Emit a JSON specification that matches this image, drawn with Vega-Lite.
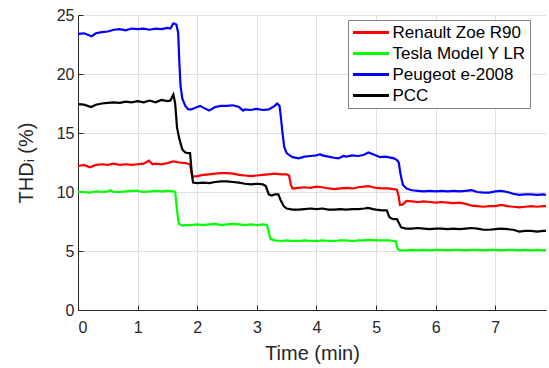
{
 "$schema": "https://vega.github.io/schema/vega-lite/v6.json",
 "width": 468,
 "height": 295,
 "autosize": "none",
 "padding": {"left": 78, "top": 15, "right": 3, "bottom": 58},
 "background": "white",
 "config": {
  "view": {"stroke": null},
  "font": "Liberation Sans",
  "axis": {
   "domainColor": "#262626", "domainWidth": 1,
   "tickColor": "#262626", "tickSize": -5, "tickWidth": 1,
   "labelColor": "#262626", "labelFont": "Liberation Sans", "labelFontSize": 16,
   "titleFont": "Liberation Sans", "titleFontSize": 20, "titleFontWeight": "normal", "titleColor": "#262626",
   "gridColor": "#dfdfdf", "gridWidth": 1
  },
  "axisX": {"labelPadding": 14, "titlePadding": 8},
  "axisY": {"labelPadding": 9, "titlePadding": 20}
 },
 "data": {"values": [
  {"s":"R","t":0,"v":12.2},{"s":"R","t":0.1,"v":12.3},{"s":"R","t":0.2,"v":12.1},{"s":"R","t":0.3,"v":12.3},{"s":"R","t":0.4,"v":12.35},{"s":"R","t":0.5,"v":12.3},{"s":"R","t":0.6,"v":12.4},{"s":"R","t":0.7,"v":12.3},{"s":"R","t":0.8,"v":12.35},{"s":"R","t":0.9,"v":12.3},{"s":"R","t":1.0,"v":12.35},{"s":"R","t":1.1,"v":12.4},{"s":"R","t":1.19,"v":12.65},{"s":"R","t":1.25,"v":12.35},{"s":"R","t":1.3,"v":12.4},{"s":"R","t":1.4,"v":12.35},{"s":"R","t":1.5,"v":12.45},{"s":"R","t":1.6,"v":12.6},{"s":"R","t":1.7,"v":12.5},{"s":"R","t":1.8,"v":12.45},{"s":"R","t":1.85,"v":12.4},{"s":"R","t":1.88,"v":12.3},{"s":"R","t":1.91,"v":11.5},{"s":"R","t":1.93,"v":11.3},{"s":"R","t":2.0,"v":11.35},{"s":"R","t":2.1,"v":11.45},{"s":"R","t":2.2,"v":11.5},{"s":"R","t":2.3,"v":11.55},{"s":"R","t":2.4,"v":11.6},{"s":"R","t":2.5,"v":11.6},{"s":"R","t":2.6,"v":11.55},{"s":"R","t":2.7,"v":11.45},{"s":"R","t":2.8,"v":11.4},{"s":"R","t":2.9,"v":11.35},{"s":"R","t":3.0,"v":11.4},{"s":"R","t":3.1,"v":11.45},{"s":"R","t":3.2,"v":11.5},{"s":"R","t":3.3,"v":11.55},{"s":"R","t":3.4,"v":11.5},{"s":"R","t":3.5,"v":11.5},{"s":"R","t":3.54,"v":11.4},{"s":"R","t":3.57,"v":10.6},{"s":"R","t":3.6,"v":10.3},{"s":"R","t":3.7,"v":10.35},{"s":"R","t":3.8,"v":10.4},{"s":"R","t":3.9,"v":10.35},{"s":"R","t":4.0,"v":10.45},{"s":"R","t":4.1,"v":10.4},{"s":"R","t":4.2,"v":10.3},{"s":"R","t":4.3,"v":10.25},{"s":"R","t":4.4,"v":10.3},{"s":"R","t":4.5,"v":10.35},{"s":"R","t":4.6,"v":10.3},{"s":"R","t":4.7,"v":10.4},{"s":"R","t":4.8,"v":10.45},{"s":"R","t":4.87,"v":10.5},{"s":"R","t":4.95,"v":10.4},{"s":"R","t":5.0,"v":10.35},{"s":"R","t":5.1,"v":10.3},{"s":"R","t":5.2,"v":10.3},{"s":"R","t":5.3,"v":10.25},{"s":"R","t":5.35,"v":10.2},{"s":"R","t":5.38,"v":9.6},{"s":"R","t":5.4,"v":8.9},{"s":"R","t":5.45,"v":8.95},{"s":"R","t":5.51,"v":9.25},{"s":"R","t":5.6,"v":9.2},{"s":"R","t":5.7,"v":9.15},{"s":"R","t":5.8,"v":9.2},{"s":"R","t":5.9,"v":9.15},{"s":"R","t":6.0,"v":9.1},{"s":"R","t":6.1,"v":9.15},{"s":"R","t":6.2,"v":9.1},{"s":"R","t":6.3,"v":9.05},{"s":"R","t":6.4,"v":9.1},{"s":"R","t":6.5,"v":9.0},{"s":"R","t":6.6,"v":8.85},{"s":"R","t":6.7,"v":8.8},{"s":"R","t":6.8,"v":8.75},{"s":"R","t":6.9,"v":8.8},{"s":"R","t":7.0,"v":8.8},{"s":"R","t":7.1,"v":8.9},{"s":"R","t":7.2,"v":8.8},{"s":"R","t":7.3,"v":8.75},{"s":"R","t":7.4,"v":8.7},{"s":"R","t":7.5,"v":8.75},{"s":"R","t":7.6,"v":8.8},{"s":"R","t":7.7,"v":8.75},{"s":"R","t":7.8,"v":8.8},{"s":"R","t":7.85,"v":8.8},
  {"s":"T","t":0,"v":10.0},{"s":"T","t":0.1,"v":10.0},{"s":"T","t":0.2,"v":9.95},{"s":"T","t":0.3,"v":10.05},{"s":"T","t":0.4,"v":10.0},{"s":"T","t":0.5,"v":10.05},{"s":"T","t":0.54,"v":10.15},{"s":"T","t":0.6,"v":10.0},{"s":"T","t":0.7,"v":10.0},{"s":"T","t":0.8,"v":10.05},{"s":"T","t":0.9,"v":10.1},{"s":"T","t":1.0,"v":10.1},{"s":"T","t":1.1,"v":10.0},{"s":"T","t":1.2,"v":10.05},{"s":"T","t":1.3,"v":10.1},{"s":"T","t":1.4,"v":10.05},{"s":"T","t":1.5,"v":10.1},{"s":"T","t":1.6,"v":10.05},{"s":"T","t":1.63,"v":10.0},{"s":"T","t":1.66,"v":8.5},{"s":"T","t":1.69,"v":7.3},{"s":"T","t":1.75,"v":7.15},{"s":"T","t":1.8,"v":7.2},{"s":"T","t":1.9,"v":7.2},{"s":"T","t":2.0,"v":7.25},{"s":"T","t":2.1,"v":7.2},{"s":"T","t":2.2,"v":7.25},{"s":"T","t":2.3,"v":7.3},{"s":"T","t":2.4,"v":7.2},{"s":"T","t":2.5,"v":7.25},{"s":"T","t":2.6,"v":7.3},{"s":"T","t":2.7,"v":7.25},{"s":"T","t":2.8,"v":7.2},{"s":"T","t":2.9,"v":7.25},{"s":"T","t":3.0,"v":7.2},{"s":"T","t":3.1,"v":7.25},{"s":"T","t":3.17,"v":7.2},{"s":"T","t":3.2,"v":6.6},{"s":"T","t":3.23,"v":6.0},{"s":"T","t":3.3,"v":5.9},{"s":"T","t":3.4,"v":5.85},{"s":"T","t":3.5,"v":5.9},{"s":"T","t":3.6,"v":5.85},{"s":"T","t":3.7,"v":5.85},{"s":"T","t":3.8,"v":5.9},{"s":"T","t":3.9,"v":5.85},{"s":"T","t":4.0,"v":5.85},{"s":"T","t":4.1,"v":5.9},{"s":"T","t":4.2,"v":5.85},{"s":"T","t":4.3,"v":5.85},{"s":"T","t":4.4,"v":5.9},{"s":"T","t":4.5,"v":5.9},{"s":"T","t":4.6,"v":5.85},{"s":"T","t":4.7,"v":5.9},{"s":"T","t":4.8,"v":5.9},{"s":"T","t":4.9,"v":5.95},{"s":"T","t":5.0,"v":5.9},{"s":"T","t":5.1,"v":5.9},{"s":"T","t":5.2,"v":5.9},{"s":"T","t":5.3,"v":5.85},{"s":"T","t":5.33,"v":5.8},{"s":"T","t":5.36,"v":5.2},{"s":"T","t":5.4,"v":5.05},{"s":"T","t":5.5,"v":5.05},{"s":"T","t":5.6,"v":5.1},{"s":"T","t":5.7,"v":5.05},{"s":"T","t":5.8,"v":5.1},{"s":"T","t":5.9,"v":5.05},{"s":"T","t":6.0,"v":5.1},{"s":"T","t":6.1,"v":5.1},{"s":"T","t":6.2,"v":5.05},{"s":"T","t":6.3,"v":5.1},{"s":"T","t":6.4,"v":5.1},{"s":"T","t":6.5,"v":5.05},{"s":"T","t":6.6,"v":5.1},{"s":"T","t":6.7,"v":5.1},{"s":"T","t":6.8,"v":5.05},{"s":"T","t":6.9,"v":5.1},{"s":"T","t":7.0,"v":5.1},{"s":"T","t":7.1,"v":5.05},{"s":"T","t":7.2,"v":5.1},{"s":"T","t":7.3,"v":5.1},{"s":"T","t":7.4,"v":5.05},{"s":"T","t":7.5,"v":5.1},{"s":"T","t":7.6,"v":5.05},{"s":"T","t":7.7,"v":5.1},{"s":"T","t":7.8,"v":5.05},{"s":"T","t":7.85,"v":5.1},
  {"s":"P","t":0,"v":23.4},{"s":"P","t":0.1,"v":23.45},{"s":"P","t":0.23,"v":23.2},{"s":"P","t":0.3,"v":23.45},{"s":"P","t":0.4,"v":23.55},{"s":"P","t":0.5,"v":23.6},{"s":"P","t":0.6,"v":23.75},{"s":"P","t":0.7,"v":23.8},{"s":"P","t":0.8,"v":23.7},{"s":"P","t":0.9,"v":23.85},{"s":"P","t":1.0,"v":23.8},{"s":"P","t":1.1,"v":23.85},{"s":"P","t":1.2,"v":23.75},{"s":"P","t":1.3,"v":23.85},{"s":"P","t":1.4,"v":23.8},{"s":"P","t":1.5,"v":23.9},{"s":"P","t":1.55,"v":23.85},{"s":"P","t":1.6,"v":24.3},{"s":"P","t":1.65,"v":24.2},{"s":"P","t":1.68,"v":23.5},{"s":"P","t":1.7,"v":21.0},{"s":"P","t":1.72,"v":19.0},{"s":"P","t":1.75,"v":17.9},{"s":"P","t":1.8,"v":17.3},{"s":"P","t":1.85,"v":17.0},{"s":"P","t":1.9,"v":17.0},{"s":"P","t":2.0,"v":17.2},{"s":"P","t":2.05,"v":17.3},{"s":"P","t":2.1,"v":17.15},{"s":"P","t":2.2,"v":16.9},{"s":"P","t":2.3,"v":17.2},{"s":"P","t":2.4,"v":17.3},{"s":"P","t":2.5,"v":17.3},{"s":"P","t":2.6,"v":17.35},{"s":"P","t":2.7,"v":17.2},{"s":"P","t":2.77,"v":16.9},{"s":"P","t":2.8,"v":17.0},{"s":"P","t":2.9,"v":16.95},{"s":"P","t":3.0,"v":17.05},{"s":"P","t":3.1,"v":16.95},{"s":"P","t":3.2,"v":17.0},{"s":"P","t":3.3,"v":17.3},{"s":"P","t":3.34,"v":17.5},{"s":"P","t":3.38,"v":17.3},{"s":"P","t":3.4,"v":16.5},{"s":"P","t":3.43,"v":15.0},{"s":"P","t":3.46,"v":13.8},{"s":"P","t":3.5,"v":13.3},{"s":"P","t":3.55,"v":13.1},{"s":"P","t":3.6,"v":12.95},{"s":"P","t":3.7,"v":12.85},{"s":"P","t":3.8,"v":13.0},{"s":"P","t":3.9,"v":13.05},{"s":"P","t":4.0,"v":13.1},{"s":"P","t":4.06,"v":13.2},{"s":"P","t":4.1,"v":13.1},{"s":"P","t":4.2,"v":13.0},{"s":"P","t":4.3,"v":12.9},{"s":"P","t":4.37,"v":12.85},{"s":"P","t":4.45,"v":13.05},{"s":"P","t":4.5,"v":13.0},{"s":"P","t":4.6,"v":13.1},{"s":"P","t":4.7,"v":13.05},{"s":"P","t":4.8,"v":13.15},{"s":"P","t":4.87,"v":13.35},{"s":"P","t":4.95,"v":13.2},{"s":"P","t":5.0,"v":13.1},{"s":"P","t":5.07,"v":12.95},{"s":"P","t":5.15,"v":13.0},{"s":"P","t":5.2,"v":12.95},{"s":"P","t":5.3,"v":12.85},{"s":"P","t":5.35,"v":12.7},{"s":"P","t":5.38,"v":12.5},{"s":"P","t":5.41,"v":11.5},{"s":"P","t":5.45,"v":10.6},{"s":"P","t":5.51,"v":10.3},{"s":"P","t":5.6,"v":10.15},{"s":"P","t":5.7,"v":10.1},{"s":"P","t":5.8,"v":10.05},{"s":"P","t":5.9,"v":10.1},{"s":"P","t":6.0,"v":10.05},{"s":"P","t":6.1,"v":10.1},{"s":"P","t":6.2,"v":10.05},{"s":"P","t":6.3,"v":10.1},{"s":"P","t":6.4,"v":10.05},{"s":"P","t":6.5,"v":10.1},{"s":"P","t":6.6,"v":10.15},{"s":"P","t":6.7,"v":10.0},{"s":"P","t":6.8,"v":9.95},{"s":"P","t":6.9,"v":9.95},{"s":"P","t":7.0,"v":10.05},{"s":"P","t":7.1,"v":10.1},{"s":"P","t":7.2,"v":10.0},{"s":"P","t":7.3,"v":9.85},{"s":"P","t":7.4,"v":9.75},{"s":"P","t":7.5,"v":9.8},{"s":"P","t":7.6,"v":9.8},{"s":"P","t":7.7,"v":9.75},{"s":"P","t":7.8,"v":9.8},{"s":"P","t":7.85,"v":9.75},
  {"s":"C","t":0,"v":17.45},{"s":"C","t":0.1,"v":17.4},{"s":"C","t":0.22,"v":17.2},{"s":"C","t":0.3,"v":17.4},{"s":"C","t":0.4,"v":17.5},{"s":"C","t":0.5,"v":17.55},{"s":"C","t":0.6,"v":17.6},{"s":"C","t":0.7,"v":17.55},{"s":"C","t":0.8,"v":17.65},{"s":"C","t":0.9,"v":17.6},{"s":"C","t":1.0,"v":17.7},{"s":"C","t":1.1,"v":17.6},{"s":"C","t":1.2,"v":17.75},{"s":"C","t":1.3,"v":17.6},{"s":"C","t":1.4,"v":17.8},{"s":"C","t":1.5,"v":17.7},{"s":"C","t":1.55,"v":17.75},{"s":"C","t":1.6,"v":18.25},{"s":"C","t":1.63,"v":17.5},{"s":"C","t":1.66,"v":15.5},{"s":"C","t":1.7,"v":14.5},{"s":"C","t":1.75,"v":13.6},{"s":"C","t":1.8,"v":13.35},{"s":"C","t":1.85,"v":13.3},{"s":"C","t":1.88,"v":13.3},{"s":"C","t":1.91,"v":11.5},{"s":"C","t":1.93,"v":10.8},{"s":"C","t":2.0,"v":10.75},{"s":"C","t":2.1,"v":10.8},{"s":"C","t":2.2,"v":10.75},{"s":"C","t":2.3,"v":10.85},{"s":"C","t":2.4,"v":10.9},{"s":"C","t":2.5,"v":10.9},{"s":"C","t":2.6,"v":10.85},{"s":"C","t":2.7,"v":10.8},{"s":"C","t":2.8,"v":10.7},{"s":"C","t":2.9,"v":10.65},{"s":"C","t":3.0,"v":10.7},{"s":"C","t":3.1,"v":10.65},{"s":"C","t":3.15,"v":10.5},{"s":"C","t":3.2,"v":9.8},{"s":"C","t":3.25,"v":9.7},{"s":"C","t":3.3,"v":9.8},{"s":"C","t":3.36,"v":9.8},{"s":"C","t":3.4,"v":9.3},{"s":"C","t":3.45,"v":8.8},{"s":"C","t":3.5,"v":8.6},{"s":"C","t":3.6,"v":8.5},{"s":"C","t":3.7,"v":8.5},{"s":"C","t":3.8,"v":8.55},{"s":"C","t":3.9,"v":8.6},{"s":"C","t":4.0,"v":8.55},{"s":"C","t":4.1,"v":8.6},{"s":"C","t":4.2,"v":8.5},{"s":"C","t":4.3,"v":8.5},{"s":"C","t":4.4,"v":8.55},{"s":"C","t":4.5,"v":8.5},{"s":"C","t":4.6,"v":8.55},{"s":"C","t":4.7,"v":8.55},{"s":"C","t":4.8,"v":8.6},{"s":"C","t":4.87,"v":8.65},{"s":"C","t":4.95,"v":8.55},{"s":"C","t":5.0,"v":8.5},{"s":"C","t":5.1,"v":8.45},{"s":"C","t":5.18,"v":8.45},{"s":"C","t":5.22,"v":7.9},{"s":"C","t":5.26,"v":7.75},{"s":"C","t":5.3,"v":7.7},{"s":"C","t":5.35,"v":7.7},{"s":"C","t":5.38,"v":7.4},{"s":"C","t":5.42,"v":7.0},{"s":"C","t":5.5,"v":6.9},{"s":"C","t":5.6,"v":6.9},{"s":"C","t":5.7,"v":6.95},{"s":"C","t":5.8,"v":6.9},{"s":"C","t":5.9,"v":6.85},{"s":"C","t":6.0,"v":6.9},{"s":"C","t":6.1,"v":6.9},{"s":"C","t":6.2,"v":6.85},{"s":"C","t":6.3,"v":6.9},{"s":"C","t":6.4,"v":6.85},{"s":"C","t":6.5,"v":6.9},{"s":"C","t":6.6,"v":6.95},{"s":"C","t":6.7,"v":6.9},{"s":"C","t":6.8,"v":6.8},{"s":"C","t":6.9,"v":6.8},{"s":"C","t":7.0,"v":6.85},{"s":"C","t":7.1,"v":6.9},{"s":"C","t":7.2,"v":6.85},{"s":"C","t":7.3,"v":6.8},{"s":"C","t":7.4,"v":6.65},{"s":"C","t":7.5,"v":6.7},{"s":"C","t":7.6,"v":6.7},{"s":"C","t":7.7,"v":6.65},{"s":"C","t":7.8,"v":6.7},{"s":"C","t":7.85,"v":6.7}
 ]},
 "mark": {"type": "line", "strokeWidth": 2.2, "clip": true},
 "encoding": {
  "x": {"field": "t", "type": "quantitative", "scale": {"domain": [0, 7.85], "nice": false, "zero": false},
        "axis": {"values": [0,1,2,3,4,5,6,7], "title": "Time (min)"}},
  "y": {"field": "v", "type": "quantitative", "scale": {"domain": [0, 25], "nice": false},
        "axis": {"values": [0,5,10,15,20,25], "title": "THDᵢ (%)"}},
  "color": {"field": "s", "type": "nominal",
   "scale": {"domain": ["R","T","P","C"], "range": ["#ff0000","#00ff00","#0000ff","#000000"]},
   "legend": {"orient": "none", "legendX": 270, "legendY": 5, "title": null,
     "labelExpr": "{'R':'Renault Zoe R90','T':'Tesla Model Y LR','P':'Peugeot e-2008','C':'PCC'}[datum.label]",
     "strokeColor": "#808080", "fillColor": "white", "padding": 4,
     "symbolType": "M-3,0L3,0", "symbolSize": 144, "symbolStrokeWidth": 3, "symbolOffset": 10.5,
     "labelFont": "Liberation Sans", "labelFontSize": 17, "labelColor": "#000000",
     "labelOffset": 13, "rowPadding": 3, "labelLimit": 300}}
 }
}
